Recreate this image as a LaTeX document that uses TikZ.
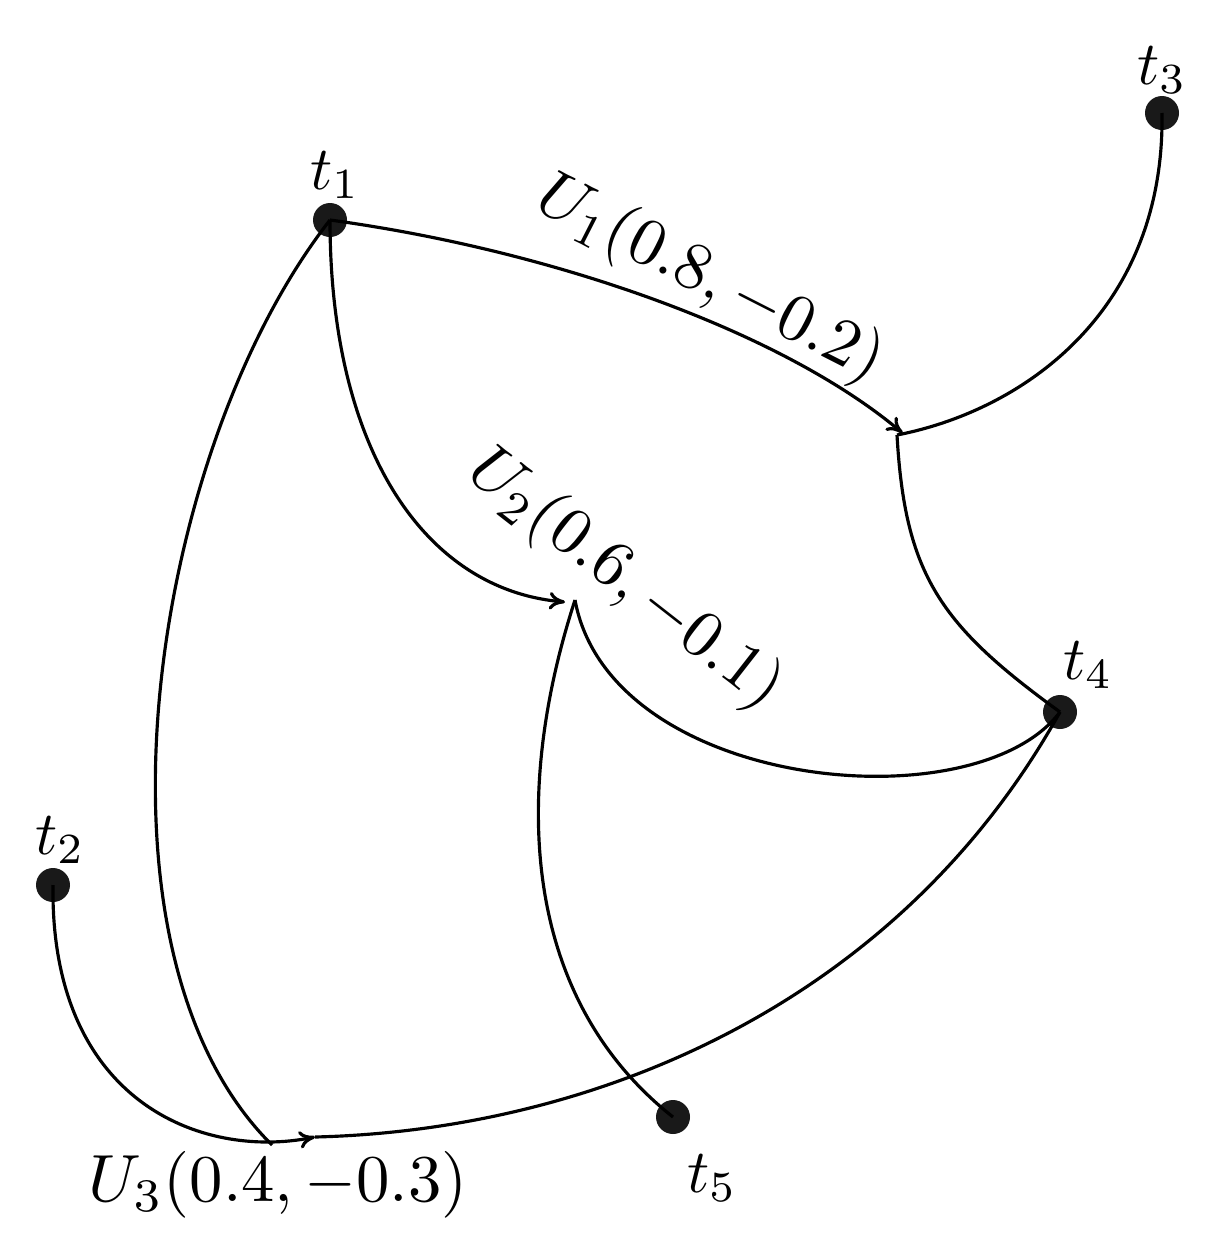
\documentclass[tikz,border=0pt]{standalone}
\usetikzlibrary{arrows.meta}
\begin{document}
\begin{tikzpicture}[
  edge/.style={line width=1.8pt},
  arr/.style={edge,-{To[length=9pt,width=10pt]}},
  vtx/.style={circle,fill=black!90,inner sep=0pt,minimum size=0.68cm},
  lbl/.style={scale=3.5},
  ulbl/.style={scale=3.8}]
\useasboundingbox (0,0) rectangle (24.16,-25.02);
\node[vtx] (t1) at (6.6,-4.4) {};
\node[vtx] (t2) at (1.06,-17.7) {};
\node[vtx] (t3) at (23.24,-2.26) {};
\node[vtx] (t4) at (21.2,-14.24) {};
\node[vtx] (t5) at (13.46,-22.34) {};
\node[lbl] (l1) at (6.7,-3.5) {$t_1$};
\node[lbl] (l2) at (1.2,-16.8) {$t_2$};
\node[lbl] (l3) at (23.24,-1.4) {$t_3$};
\node[lbl] (l4) at (21.76,-13.3) {$t_4$};
\node[lbl] (l5) at (14.24,-23.56) {$t_5$};
\coordinate (u1) at (17.94,-8.7);
\coordinate (u1a) at (18.05,-8.66);
\coordinate (u2) at (11.5,-12.0);
\coordinate (u2a) at (11.3,-12.04);
\coordinate (u3) at (6.3,-22.74);
\coordinate (u3a) at (5.44,-22.9);
\draw[arr] (t1.center) .. controls (11,-5) and (15.6,-6.6) .. (u1a);
\draw[edge] (u1) .. controls (20.5,-8.2) and (23.3,-6.2) .. (t3.center);
\draw[edge] (u1) .. controls (18.1,-11.5) and (18.8,-12.5) .. (t4.center);
\draw[arr] (t1.center) .. controls (6.6,-9) and (8.5,-11.8) .. (u2a);
\draw[edge] (u2) .. controls (12.2,-15.8) and (19.5,-16.5) .. (t4.center);
\draw[edge] (u2) .. controls (10.2,-16) and (10.5,-20) .. (t5.center);
\draw[edge] (t1.center) .. controls (3,-9) and (1.5,-19) .. (u3a);
\draw[arr] (t2.center) .. controls (1,-22) and (4,-23.2) .. (u3);
\draw[edge] (u3) .. controls (12,-22.6) and (18,-20) .. (t4.center);
\node[ulbl,rotate=-27] (U1) at (14.2,-5.6) {$U_1(0.8,-0.2)$};
\node[ulbl,rotate=-38] (U2) at (12.5,-11.6) {$U_2(0.6,-0.1)$};
\node[ulbl] (U3) at (5.56,-23.7) {$U_3(0.4,-0.3)$};
\end{tikzpicture}
\end{document}
